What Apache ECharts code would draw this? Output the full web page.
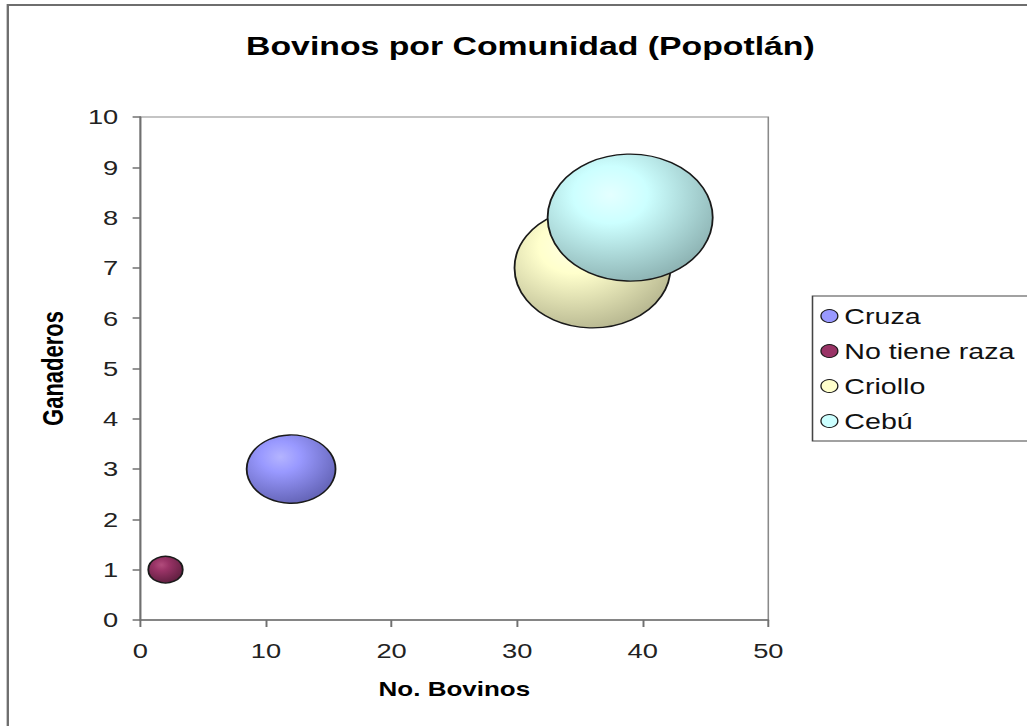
<!DOCTYPE html>
<html>
<head>
<meta charset="utf-8">
<script src="https://cdn.jsdelivr.net/npm/echarts@6/dist/echarts.min.js"></script>
<style>
  html, body { margin: 0; padding: 0; background: #fff; overflow: hidden; }
  /* the original picture is stretched sideways, so draw narrow and scale */
  #chart { width: 790px; height: 726px; transform: scaleX(1.3); transform-origin: 0 0; }
</style>
</head>
<body>
<div id="chart"></div>
<script>
// Bovinos por Comunidad (Popotlán)
var categories = ['Cruza', 'No tiene raza', 'Criollo', 'Cebú'];
var bovinos = [12, 2, 36, 39];
var ganaderos = [3, 1, 7, 8];
var bubbleSize = [11.3, 1.7, 34.8, 39];
var xTicks = [0, 50, 10];   // min, max, interval
var yTicks = [0, 10, 1];

var baseColors = ['#9999FF', '#993366', '#FFFFCC', '#CCFFFF'];
var edgeColors = ['#5f5fb0', '#5a1d3c', '#b2b28c', '#88adad'];
var lightColors = ['#b4b4ff', '#b24c7c', '#ffffe4', '#e4ffff'];

var maxSize = Math.max.apply(null, bubbleSize);
var maxDiameter = 127;
var font = 'Liberation Sans, Arial, sans-serif';

var myChart = echarts.init(document.getElementById('chart'), null, { renderer: 'svg' });

var serieData = [];
var legendData = [];
for (var v = 0; v < categories.length; v++) {
    serieData.push({
        name: categories[v],
        type: 'scatter',
        symbol: 'circle',
        symbolSize: function (val) {
            return maxDiameter * Math.sqrt(val[2] / maxSize);
        },
        itemStyle: {
            color: {
                type: 'radial', x: 0.38, y: 0.32, r: 0.75,
                colorStops: [
                    { offset: 0, color: lightColors[v] },
                    { offset: 0.3, color: baseColors[v] },
                    { offset: 1, color: edgeColors[v] }
                ]
            },
            borderColor: '#1a1a1a',
            borderWidth: 1.4,
            opacity: 1
        },
        emphasis: { disabled: true },
        data: [[bovinos[v], ganaderos[v], bubbleSize[v]]]
    });
    legendData.push({
        name: categories[v],
        itemStyle: { color: baseColors[v], borderColor: '#1a1a1a', borderWidth: 1 }
    });
}

var option = {
    backgroundColor: '#fff',
    animation: false,
    textStyle: { fontFamily: font },
    title: {
        text: 'Bovinos por Comunidad (Popotlán)',
        left: 403, textAlign: 'center', top: 28,
        textStyle: { fontSize: 26, fontWeight: 'bold', color: '#000', fontFamily: font }
    },
    legend: {
        orient: 'vertical',
        left: 625, top: 296,
        padding: [9, 40, 9, 6],
        itemGap: 13,
        itemWidth: 13, itemHeight: 13,
        itemTextGap: 12,
        icon: 'circle',
        borderColor: '#444', borderWidth: 1.2,
        textStyle: { fontSize: 22, color: '#111', fontFamily: font },
        data: legendData
    },
    graphic: [{
        type: 'rect',
        shape: { x: 6, y: 5, width: 900, height: 800 },
        style: { fill: 'none', stroke: '#6e6e6e', lineWidth: 1.8 },
        silent: true
    }],
    grid: {
        left: 108, top: 117, width: 483, height: 503,
        show: true, borderColor: '#8a8a8a', borderWidth: 1.2, backgroundColor: 'transparent'
    },
    xAxis: {
        type: 'value', min: xTicks[0], max: xTicks[1], interval: xTicks[2],
        name: 'No. Bovinos', nameLocation: 'middle', nameGap: 59,
        nameTextStyle: { fontSize: 20, fontWeight: 'bold', color: '#000', fontFamily: font },
        axisLine: { show: true, lineStyle: { color: '#707070', width: 1.5 } },
        axisTick: { show: true, inside: false, length: 7, lineStyle: { color: '#707070', width: 1.5 } },
        axisLabel: { fontSize: 21, color: '#222', margin: 20, fontFamily: font },
        splitLine: { show: false }
    },
    yAxis: {
        type: 'value', min: yTicks[0], max: yTicks[1], interval: yTicks[2],
        name: 'Ganaderos', nameLocation: 'middle', nameGap: 56,
        nameTextStyle: { fontSize: 22, fontWeight: 'bold', color: '#000', fontFamily: font },
        axisLine: { show: true, lineStyle: { color: '#707070', width: 1.5 } },
        axisTick: { show: true, inside: false, length: 6, lineStyle: { color: '#707070', width: 1.5 } },
        axisLabel: { fontSize: 21, color: '#222', margin: 17, fontFamily: font },
        splitLine: { show: false }
    },
    series: serieData
};

myChart.setOption(option);
</script>
</body>
</html>
